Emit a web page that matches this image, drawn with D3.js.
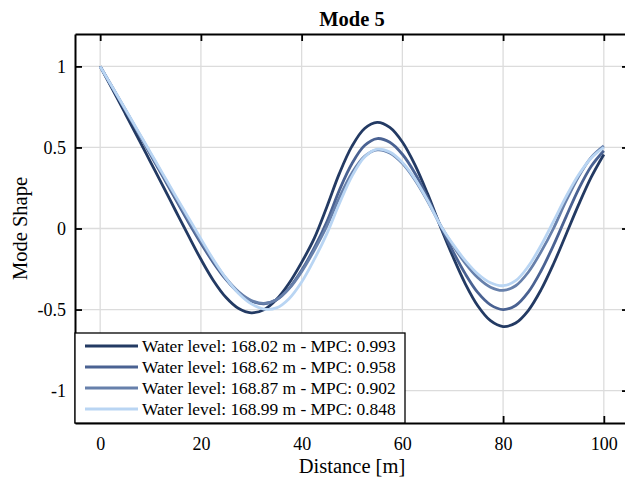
<!DOCTYPE html>
<html>
<head>
<meta charset="utf-8">
<script src="https://cdn.jsdelivr.net/npm/d3@7"></script>
<style>
  body { margin: 0; background: #fff; }
  text { font-family: "Liberation Serif", "Times New Roman", serif; fill: #000; }
</style>
</head>
<body>
<div id="chart"></div>
<script>
// Data
var distance = [0, 2.5, 5, 7.5, 10, 12.5, 15, 17.5, 20, 22.5, 25, 27.5, 30, 32.5, 35, 37.5, 40,
  42.5, 45, 47.5, 50, 52.5, 55, 57.5, 60, 62.5, 65, 67.5, 70, 72.5, 75, 77.5, 80,
  82.5, 85, 87.5, 90, 92.5, 95, 97.5, 100];

var level1 = [1, 0.855, 0.708, 0.56, 0.41, 0.26, 0.108, -0.043, -0.19, -0.322, -0.426, -0.494, -0.52,
  -0.501, -0.438, -0.338, -0.209, -0.061, 0.133, 0.34, 0.508, 0.617, 0.655, 0.624, 0.534, 0.393,
  0.215, 0.016, -0.171, -0.341, -0.478, -0.569, -0.605, -0.583, -0.506, -0.38, -0.219, -0.037,
  0.147, 0.317, 0.457];
var level2 = [1, 0.865, 0.73, 0.593, 0.455, 0.317, 0.178, 0.04, -0.091, -0.212, -0.316, -0.397, -0.447,
  -0.465, -0.44, -0.369, -0.258, -0.12, 0.041, 0.237, 0.401, 0.512, 0.555, 0.532, 0.458, 0.341,
  0.19, 0.021, -0.138, -0.28, -0.396, -0.471, -0.5, -0.475, -0.393, -0.264, -0.104, 0.072,
  0.243, 0.384, 0.48];
var level3 = [1, 0.867, 0.733, 0.598, 0.462, 0.326, 0.19, 0.054, -0.077, -0.2, -0.308, -0.391, -0.444,
  -0.462, -0.439, -0.371, -0.266, -0.134, 0.015, 0.192, 0.343, 0.445, 0.485, 0.466, 0.402, 0.3,
  0.17, 0.024, -0.103, -0.215, -0.304, -0.362, -0.382, -0.353, -0.27, -0.146, 0, 0.17,
  0.321, 0.439, 0.51];
var level4 = [1, 0.868, 0.736, 0.602, 0.468, 0.334, 0.2, 0.068, -0.064, -0.193, -0.308, -0.401, -0.465,
  -0.497, -0.49, -0.433, -0.33, -0.191, -0.033, 0.154, 0.323, 0.441, 0.489, 0.472, 0.408, 0.306,
  0.174, 0.024, -0.095, -0.198, -0.281, -0.335, -0.353, -0.322, -0.234, -0.106, 0.044, 0.196,
  0.331, 0.435, 0.5];

var legendLabels = [
  "Water level: 168.02 m - MPC: 0.993",
  "Water level: 168.62 m - MPC: 0.958",
  "Water level: 168.87 m - MPC: 0.902",
  "Water level: 168.99 m - MPC: 0.848"
];
var xTicks = [0, 20, 40, 60, 80, 100];
var yTicks = [-1, -0.5, 0, 0.5, 1];
var yTickLabels = ["-1", "-0.5", "0", "0.5", "1"];

var colors = ["#233a63", "#4a6292", "#6780ab", "#b9d5f3"];
var series = [level1, level2, level3, level4];

// SVG area
var svgWidth = 625;
var svgHeight = 482;
var margin = { top: 34, right: -4, bottom: 59, left: 75 };
var width = svgWidth - margin.left - margin.right;
var height = svgHeight - margin.top - margin.bottom;

var svg = d3.select("#chart")
  .append("svg")
  .attr("width", svgWidth)
  .attr("height", svgHeight);

var chartGroup = svg.append("g")
  .attr("transform", `translate(${margin.left}, ${margin.top})`);

// Scales
var xScale = d3.scaleLinear().domain([-5, 105]).range([0, width]);
var yScale = d3.scaleLinear().domain([-1.2, 1.2]).range([height, 0]);

// Grid lines
chartGroup.append("g")
  .selectAll("line")
  .data(xTicks)
  .enter()
  .append("line")
  .attr("x1", d => xScale(d))
  .attr("x2", d => xScale(d))
  .attr("y1", 0)
  .attr("y2", height)
  .attr("stroke", "#dcdcdc")
  .attr("stroke-width", 1.3);

chartGroup.append("g")
  .selectAll("line")
  .data(yTicks)
  .enter()
  .append("line")
  .attr("x1", 0)
  .attr("x2", width)
  .attr("y1", d => yScale(d))
  .attr("y2", d => yScale(d))
  .attr("stroke", "#dcdcdc")
  .attr("stroke-width", 1.3);

// Curves
var line = d3.line()
  .x((d, i) => xScale(distance[i]))
  .y(d => yScale(d))
  .curve(d3.curveCatmullRom);

chartGroup.selectAll(".curve")
  .data(series)
  .enter()
  .append("path")
  .attr("class", "curve")
  .attr("d", d => line(d))
  .attr("fill", "none")
  .attr("stroke", (d, i) => colors[i])
  .attr("stroke-width", 2.8);

// Axes (ticks pointing inward)
var bottomAxis = d3.axisBottom(xScale).tickValues(xTicks).tickSizeInner(-7).tickSizeOuter(0).tickPadding(14);
var topAxis = d3.axisTop(xScale).tickValues(xTicks).tickSizeInner(-7).tickSizeOuter(0).tickFormat("");
var leftAxis = d3.axisLeft(yScale).tickValues(yTicks).tickSizeInner(-7).tickSizeOuter(0).tickPadding(9)
  .tickFormat((d, i) => yTickLabels[i]);
var rightAxis = d3.axisRight(yScale).tickValues(yTicks).tickSizeInner(-7).tickSizeOuter(0).tickFormat("");

var axes = [
  chartGroup.append("g").attr("transform", `translate(0, ${height})`).call(bottomAxis),
  chartGroup.append("g").call(topAxis),
  chartGroup.append("g").call(leftAxis),
  chartGroup.append("g").attr("transform", `translate(${width}, 0)`).call(rightAxis)
];
axes.forEach(function(a) {
  a.select(".domain").attr("stroke", "#000").attr("stroke-width", 2);
  a.selectAll(".tick line").attr("stroke", "#000").attr("stroke-width", 1.8);
  a.selectAll(".tick text").style("font-size", "18px").style("font-family", "Liberation Serif, serif");
});

// Legend
var legend = chartGroup.append("g");
legend.append("rect")
  .attr("x", 0)
  .attr("y", 299)
  .attr("width", 330)
  .attr("height", height - 299)
  .attr("fill", "#fff")
  .attr("stroke", "#000")
  .attr("stroke-width", 1.3);

var rows = legend.selectAll(".row")
  .data(legendLabels)
  .enter()
  .append("g")
  .attr("transform", (d, i) => `translate(0, ${312 + i * 21})`);

rows.append("line")
  .attr("x1", 10)
  .attr("x2", 63)
  .attr("stroke", (d, i) => colors[i])
  .attr("stroke-width", 3.2);

rows.append("text")
  .attr("x", 67)
  .attr("dy", "0.35em")
  .style("font-size", "17.4px")
  .text(d => d);

// Title and axis labels
svg.append("text")
  .attr("x", margin.left + width / 2)
  .attr("y", 26)
  .attr("text-anchor", "middle")
  .style("font-size", "20.5px")
  .style("font-weight", "bold")
  .text("Mode 5");

svg.append("text")
  .attr("x", margin.left + width / 2)
  .attr("y", 473)
  .attr("text-anchor", "middle")
  .style("font-size", "20.5px")
  .text("Distance [m]");

svg.append("text")
  .attr("transform", "rotate(-90)")
  .attr("x", -(margin.top + height / 2))
  .attr("y", 27)
  .attr("text-anchor", "middle")
  .style("font-size", "20.5px")
  .text("Mode Shape");
</script>
</body>
</html>
